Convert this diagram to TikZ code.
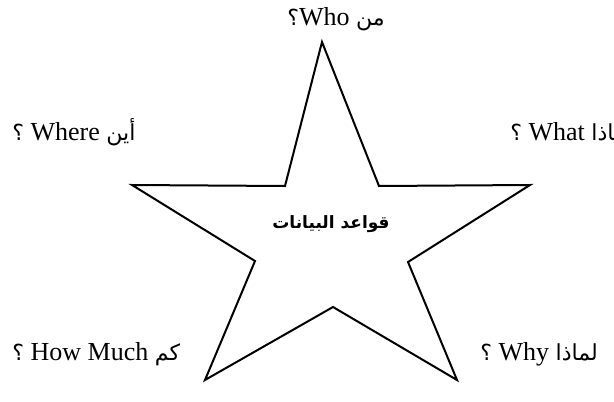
\documentclass[tikz,border=0pt]{standalone}
\usepackage{fontspec}
\setmainfont{Liberation Serif}
\newfontfamily\arabicfont[Script=Arabic,Scale=0.85]{DejaVu Sans}
\TeXXeTstate=1
\newcommand\arword[1]{{\arabicfont\beginR #1\endR}}

\begin{document}
\begin{tikzpicture}[x=0.5pt,y=-0.5pt,
  question/.style={font=\fontsize{13}{15}\selectfont,inner sep=0pt,anchor=base west},
  centre/.style={font=\fontsize{10}{12}\selectfont\arabicfont\bfseries,inner sep=0pt}]
  \useasboundingbox (0,0) rectangle (614,401);
  % star
  \draw[line width=1pt,line join=miter]
    (322,42) -- (379,186) -- (530,185) -- (408,262) -- (457,380)
    -- (333,307) -- (205,380) -- (255,261) -- (132,185) -- (285,186) -- cycle;
  \node[centre] (db) at (331,224) {\arword{قواعد البيانات}};
  % questions
  \node[question] (who) at (287,26) {\arword{؟}Who \arword{من}};
  \node[question] (where) at (12,140) {\arword{؟} Where \arword{أين}};
  \node[question] (what) at (510,140) {\arword{؟} What \arword{ماذا}};
  \node[question] (howmuch) at (12,360) {\arword{؟} How Much \arword{كم}};
  \node[question] (why) at (480,360) {\arword{؟} Why \arword{لماذا}};
\end{tikzpicture}
\end{document}
